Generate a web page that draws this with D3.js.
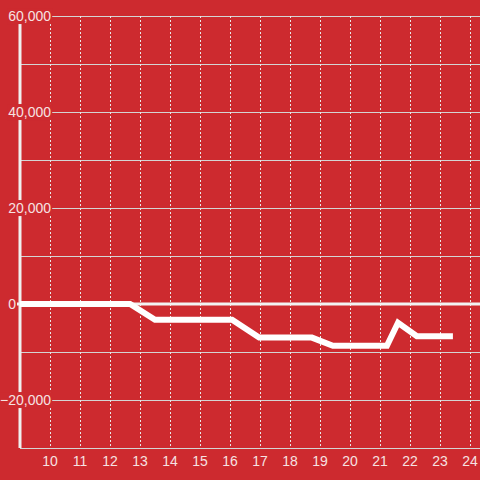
<!DOCTYPE html>
<html>
<head>
<meta charset="utf-8">
<script src="https://cdn.jsdelivr.net/npm/d3@7"></script>
<style>
  html, body { margin: 0; padding: 0; background: #cd2a2f; }
  svg { display: block; font-family: "Liberation Sans", Arial, sans-serif; }
</style>
</head>
<body>
<div id="chart"></div>
<script>
// hour of day and value
const hours = [9, 12.67, 13.5, 16.07, 16.97, 18.73, 19.43, 21.23, 21.6, 22.23, 23.43];
const values = [0, 0, -3300, -3300, -7000, -7000, -8700, -8700, -3900, -6700, -6700];
const xTicks = [10, 11, 12, 13, 14, 15, 16, 17, 18, 19, 20, 21, 22, 23, 24];
const yGrid = [60000, 50000, 40000, 30000, 20000, 10000, 0, -10000, -20000, -30000];
const yLabels = [60000, 40000, 20000, 0, -20000];

const width = 480;
const height = 480;
const margin = { top: 16, right: 0, bottom: 32, left: 20 };
const bg = '#cd2a2f';
const textColor = '#f6e2e2';

const x = d3.scaleLinear()
  .domain([9, 24.333])
  .range([margin.left, width - margin.right]);

const y = d3.scaleLinear()
  .domain([-30000, 60000])
  .range([height - margin.bottom, margin.top]);

const svg = d3.select('#chart')
  .append('svg')
  .attr('width', width)
  .attr('height', height);

svg.append('rect')
  .attr('width', width)
  .attr('height', height)
  .attr('fill', bg);

// horizontal grid
svg.append('g')
  .attr('class', 'y grid')
  .selectAll('line')
  .data(yGrid)
  .enter()
  .append('line')
  .attr('x1', margin.left)
  .attr('x2', width)
  .attr('y1', d => y(d))
  .attr('y2', d => y(d))
  .attr('stroke', '#d4d4d4')
  .attr('stroke-width', 1)
  .attr('shape-rendering', 'crispEdges');

// vertical dashed grid
svg.append('g')
  .attr('class', 'x grid')
  .selectAll('line')
  .data(xTicks)
  .enter()
  .append('line')
  .attr('x1', d => Math.round(x(d)) + 0.5)
  .attr('x2', d => Math.round(x(d)) + 0.5)
  .attr('y1', y(60000))
  .attr('y2', y(-30000))
  .attr('stroke', '#e8e8e8')
  .attr('stroke-width', 1)
  .attr('stroke-dasharray', '2,2');

// y axis line
svg.append('line')
  .attr('x1', margin.left)
  .attr('x2', margin.left)
  .attr('y1', y(60000))
  .attr('y2', y(-30000))
  .attr('stroke', '#f0f0f0')
  .attr('stroke-width', 3);

// zero line
svg.append('line')
  .attr('x1', margin.left - 3)
  .attr('x2', width)
  .attr('y1', y(0))
  .attr('y2', y(0))
  .attr('stroke', '#f2f2f2')
  .attr('stroke-width', 3);

// y labels with a background box; the zero label sits left of the axis
const yl = svg.append('g')
  .attr('class', 'y labels')
  .selectAll('g')
  .data(yLabels)
  .enter()
  .append('g')
  .attr('transform', d => `translate(${d === 0 ? 16 : 51},${y(d)})`);

yl.append('rect');
yl.append('text')
  .attr('text-anchor', 'end')
  .attr('dy', '0.36em')
  .attr('font-size', 14)
  .attr('fill', textColor)
  .text(d => d3.format(',')(d));

yl.each(function (d) {
  if (d === 0) return;
  const b = d3.select(this).select('text').node().getBBox();
  d3.select(this).select('rect')
    .attr('x', b.x - 1)
    .attr('y', b.y)
    .attr('width', b.width + 2)
    .attr('height', b.height)
    .attr('fill', bg);
});

// x labels
svg.append('g')
  .attr('class', 'x labels')
  .selectAll('text')
  .data(xTicks)
  .enter()
  .append('text')
  .attr('x', d => x(d))
  .attr('y', 466)
  .attr('text-anchor', 'middle')
  .attr('font-size', 14)
  .attr('fill', textColor)
  .text(d => d);

// data line
const line = d3.line()
  .x((d, i) => x(hours[i]))
  .y(d => y(d));

svg.append('path')
  .attr('d', line(values))
  .attr('fill', 'none')
  .attr('stroke', '#ffffff')
  .attr('stroke-width', 6)
  .attr('stroke-linejoin', 'miter');
</script>
</body>
</html>
